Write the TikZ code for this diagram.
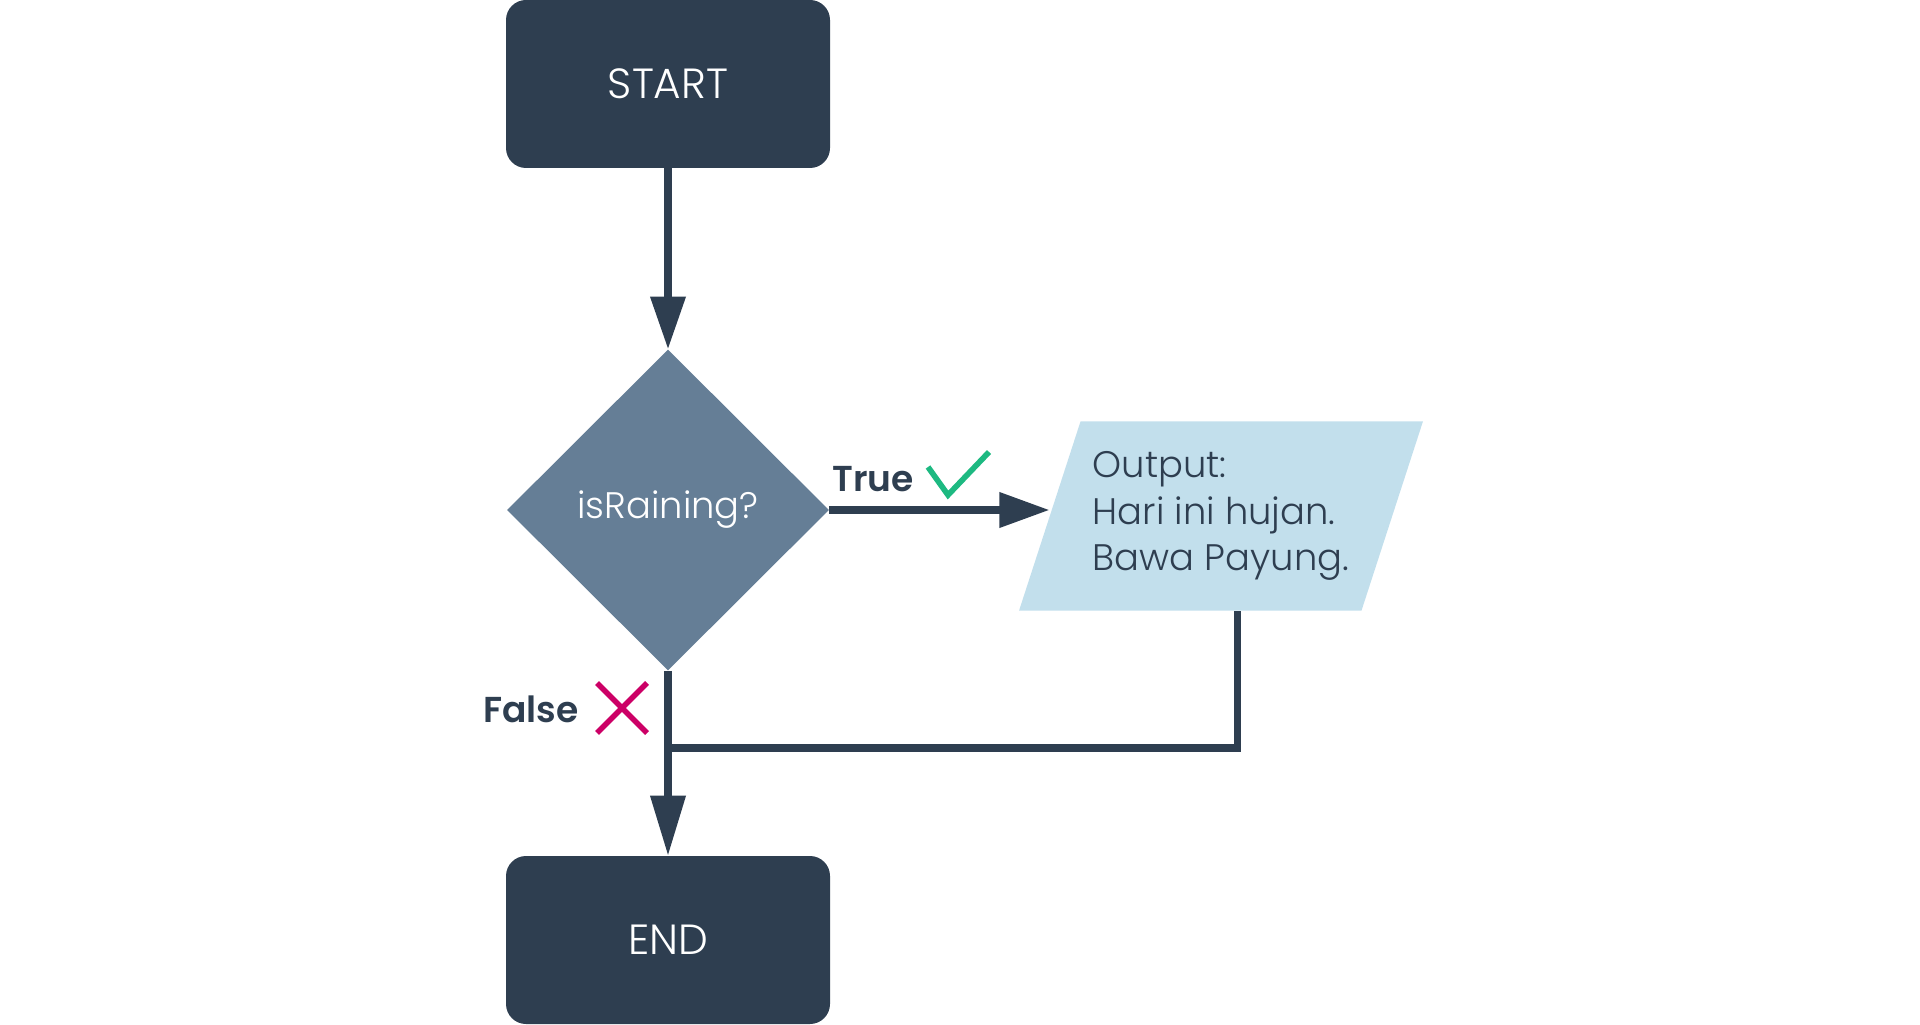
\documentclass[tikz,border=0pt]{standalone}
\usepackage{fontspec}
\setmainfont{Poppins}[UprightFont={* Light}, BoldFont={* SemiBold}]
\usepackage{xcolor}
\usepackage{tikz}
\usetikzlibrary{
  arrows.meta, positioning, shapes.geometric, calc
}
\definecolor{navy}{HTML}{2E3E50}
\definecolor{slate}{HTML}{657E96}
\definecolor{skyblue}{HTML}{C2DFEC}
\definecolor{okgreen}{HTML}{1DB981}
\definecolor{nopink}{HTML}{CC0066}

\begin{document}
\begin{tikzpicture}[
  terminal/.style={rectangle, rounded corners=0.4cm, fill=navy, text=white,
    minimum width=6.48cm, minimum height=3.36cm, font=\fontsize{24}{28}\selectfont},
  decision/.style={diamond, fill=slate, text=white, inner sep=0pt,
    minimum width=6.44cm, minimum height=6.42cm, font=\fontsize{21}{25}\selectfont},
  iobox/.style={trapezium, trapezium left angle=72, trapezium right angle=108,
    trapezium stretches body, fill=skyblue, text=navy, inner xsep=0pt,
    inner ysep=0.6cm, align=left, minimum width=8.08cm,
    font=\fontsize{21}{26.6}\selectfont},
  flow/.style={draw=navy, line width=4pt, -{Triangle[length=1cm, width=0.68cm]}},
  branch/.style={text=navy, font=\bfseries\fontsize{20.5}{24}\selectfont}
]
  \useasboundingbox (0,0) rectangle (38.4,20.48);
  % Nodes
  \node[terminal] (start) at (13.36,18.8) {START};
  \node[decision] (rain) at (13.36,10.28) {isRaining?};
  \node[iobox] (out) at (24.42,10.16) {Output:\\Hari ini hujan.\\Bawa Payung.};
  \node[terminal] (end) at (13.36,1.68) {END};
  \coordinate (join) at (13.36,5.52);
  % Connectors
  \draw[flow, -{Triangle[length=1.05cm, width=0.68cm]}] (start) -- (rain);
  \draw[flow] (rain.east) -- (rain.east -| out.west);
  \draw[flow, -{Triangle[length=1.2cm, width=0.68cm]}] (rain) -- (end);
  \draw[draw=navy, line width=4pt] ([xshift=0.32cm]out.south) |- (join);
  % Branch labels
  \node[branch] (truelbl) at (17.46,10.9) {True};
  \draw[okgreen, line width=3.2pt] (18.56,11.14) -- (18.96,10.58) -- (19.78,11.44);
  \node[branch] (falselbl) at (10.62,6.3) {False};
  \draw[nopink, line width=3.2pt] (11.94,5.82) -- (12.94,6.82) (11.94,6.82) -- (12.94,5.82);
\end{tikzpicture}
\end{document}
